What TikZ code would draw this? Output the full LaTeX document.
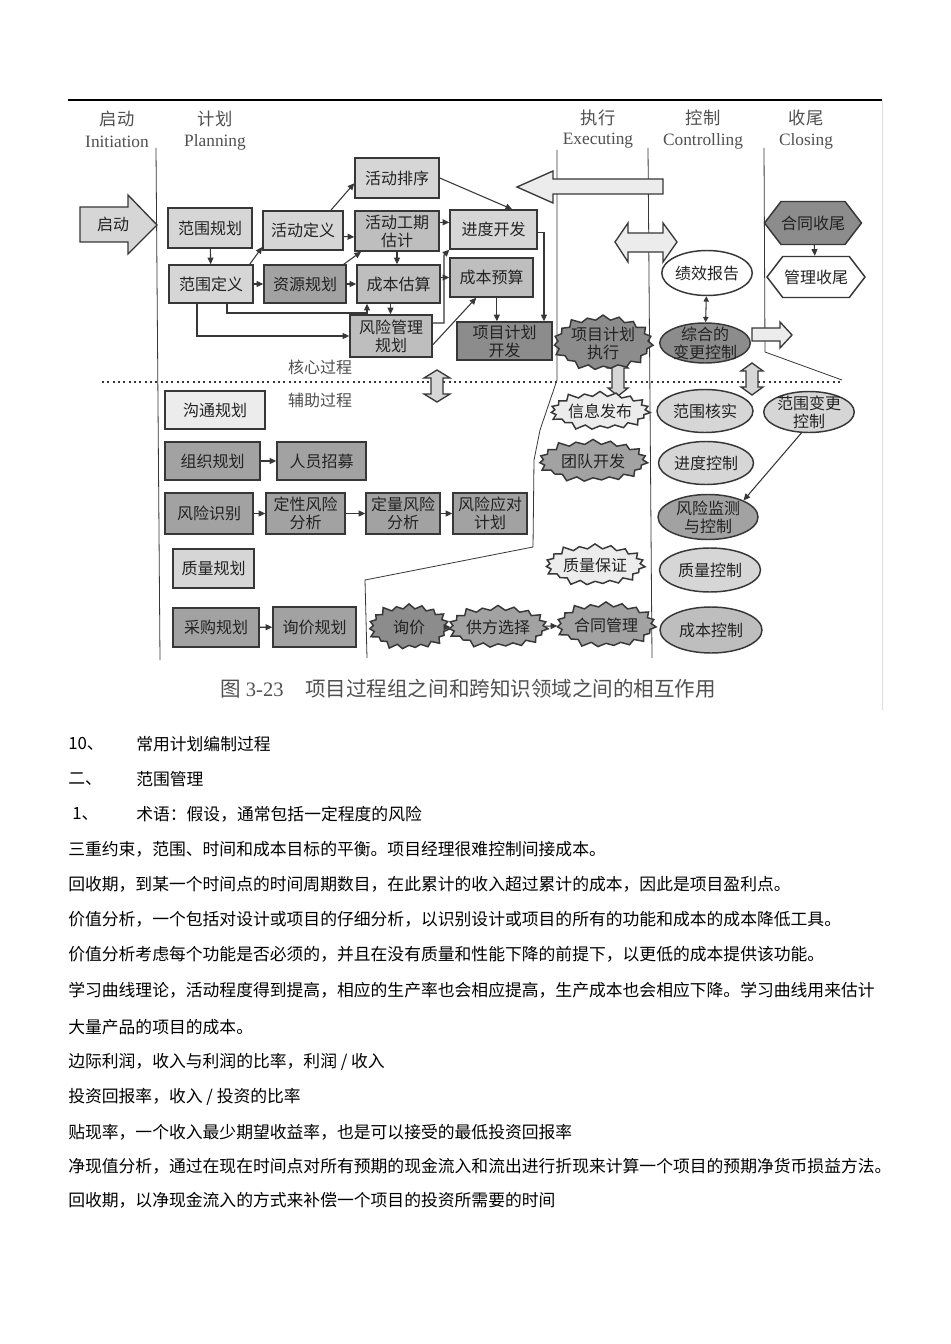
\documentclass[tikz,border=0pt]{standalone}
\usepackage{fontspec}
\setmainfont{Liberation Serif}
\newfontfamily\cjk{Noto Sans CJK SC}
\usepackage{xcolor}
\usetikzlibrary{positioning, arrows.meta, calc, shapes.geometric, shapes.symbols}
\definecolor{lineDark}{RGB}{55,55,55}
\definecolor{fillPale}{RGB}{236,236,236}
\definecolor{fillLight}{RGB}{214,214,214}
\definecolor{fillMid}{RGB}{190,190,190}
\definecolor{fillDeep}{RGB}{162,162,162}
\definecolor{fillDark}{RGB}{140,140,140}
\definecolor{textDark}{RGB}{35,35,35}
\definecolor{textMute}{RGB}{80,80,80}
\newcommand{\boxfont}{\cjk\fontsize{12}{13.5}\selectfont}
\newcommand{\bodyfont}{\cjk\fontsize{12.6}{14}\selectfont}
\newcommand{\headfont}{\fontsize{13}{15}\selectfont}

\begin{document}
\begin{tikzpicture}[
    x=0.75pt, y=-0.75pt,
    every node/.style={text=textDark},
    boxsize/.code 2 args={%
        \pgfmathsetlengthmacro\boxwd{#1*0.75}%
        \pgfmathsetlengthmacro\boxht{#2*0.75}%
        \tikzset{minimum width=\boxwd, minimum height=\boxht}},
    box/.style={draw=lineDark, line width=1.1pt, inner sep=0pt, align=center, font=\boxfont},
    oval/.style={box, shape=ellipse},
    burst/.style={box, shape=starburst, starburst points=19, starburst point height=5pt},
    hexa/.style={box, shape=signal, signal to=east and west, signal pointer angle=105},
    conn/.style={draw=lineDark, line width=0.8pt, -{Triangle[length=5pt,width=4.5pt]}},
    blockarrow/.style={draw=lineDark, line width=1pt, fill=fillPale},
    phaseline/.style={draw=lineDark, line width=0.6pt},
    headtext/.style={font=\headfont, text=textMute, inner sep=0pt},
    bodytext/.style={anchor=west, font=\bodyfont, inner sep=0pt, text=black},
]
% Canvas: 950 x 1344 px, y grows downwards
\useasboundingbox (0,0) rectangle (950,1344);
\fill[white] (0,0) rectangle (950,1344);

% --- Figure frame ---
\draw[black, line width=0.9pt] (68,100) -- (882,100);
\draw[gray!25, line width=0.6pt] (882,100) -- (882,710);

% --- Phase headers ---
\node[headtext] (hInitZh) at (117,119) {\cjk 启动};
\node[headtext] (hInitEn) at (117,142) {Initiation};
\node[headtext] (hPlanZh) at (215,119) {\cjk 计划};
\node[headtext] (hPlanEn) at (215,142) {Planning};
\node[headtext] (hExecZh) at (598,118) {\cjk 执行};
\node[headtext] (hExecEn) at (598,141) {Executing};
\node[headtext] (hCtrlZh) at (703,118) {\cjk 控制};
\node[headtext] (hCtrlEn) at (703,141) {Controlling};
\node[headtext] (hCloseZh) at (806,118) {\cjk 收尾};
\node[headtext] (hCloseEn) at (806,141) {Closing};

% --- Phase boundaries ---
\draw[phaseline] (156,148) -- (160,660);
\draw[phaseline] (557,150) -- (557,380) -- (540,430) -- (534,460) -- (533,547)
    -- (365,580) -- (367,658);
\draw[phaseline] (648,148) -- (652,658);
\draw[phaseline] (764,148) -- (765,352) -- (842,380);

% --- Core / supporting split ---
\draw[lineDark, line width=1.6pt, dash pattern=on 1.4pt off 2.6pt] (102,382) -- (842,382);
\node[headtext, font=\boxfont] (coreLbl) at (320,367) {核心过程};
\node[headtext, font=\boxfont] (suppLbl) at (320,400) {辅助过程};

% --- Block arrows ---
\draw[blockarrow, fill=fillLight] (80,207) -- (128,207) -- (128,195) -- (157,225)
    -- (128,254) -- (128,242) -- (80,242) -- cycle;
\node[font=\boxfont] (startLbl) at (113,224) {启动};
\draw[blockarrow] (663,179) -- (553,179) -- (553,171) -- (517,187) -- (553,203)
    -- (553,194) -- (663,194) -- cycle;
\draw[blockarrow] (615,242) -- (628,223) -- (628,233) -- (663,233) -- (663,223)
    -- (677,242) -- (663,262) -- (663,252) -- (628,252) -- (628,262) -- cycle;
\draw[blockarrow] (752,328) -- (780,328) -- (780,322) -- (792,335) -- (780,348)
    -- (780,341) -- (752,341) -- cycle;
\draw[blockarrow, fill=fillLight] (437,370) -- (450,378) -- (443,378) -- (443,394)
    -- (450,394) -- (437,402) -- (424,394) -- (431,394) -- (431,378) -- (424,378) -- cycle;
\draw[blockarrow, fill=fillLight] (618,360) -- (628,368) -- (624,368) -- (624,388)
    -- (628,388) -- (618,396) -- (608,388) -- (612,388) -- (612,368) -- (608,368) -- cycle;
\draw[blockarrow, fill=fillLight] (752,363) -- (763,371) -- (758,371) -- (758,387)
    -- (763,387) -- (752,395) -- (741,387) -- (746,387) -- (746,371) -- (741,371) -- cycle;

% --- Planning: core processes ---
\node[box, fill=fillLight, boxsize={84}{40}] (scopePlan) at (210,228) {范围规划};
\node[box, fill=fillLight, boxsize={84}{38}] (scopeDef)  at (211,284) {范围定义};
\node[box, fill=fillLight, boxsize={80}{39}] (actDef)    at (303,230.5) {活动定义};
\node[box, fill=fillDeep,  boxsize={82}{38}] (resPlan)   at (305,284) {资源规划};
\node[box, fill=fillLight, boxsize={84}{40}] (actSeq)    at (397,178) {活动排序};
\node[box, fill=fillMid,   boxsize={84}{40}] (actDur)    at (397,231) {活动工期\\估计};
\node[box, fill=fillMid,   boxsize={83}{38}] (costEst)   at (398.5,284) {成本估算};
\node[box, fill=fillMid,   boxsize={82}{42}] (riskPlan)  at (391,336) {风险管理\\规划};
\node[box, fill=fillLight, boxsize={87}{39}] (schedDev)  at (493.5,229.5) {进度开发};
\node[box, fill=fillMid,   boxsize={83}{39}] (costBud)   at (491.5,277.5) {成本预算};
\node[box, fill=fillDark,  boxsize={95}{38}] (planDev)   at (504.5,341) {项目计划\\开发};

\coordinate (costLoop)  at (367,313);
\coordinate (schedBend) at (444,255);

\draw[conn] (scopePlan) -- (scopeDef);
\draw[conn] (scopeDef.27) -- (actDef.202);
\draw[conn] (scopeDef) -- (resPlan);
\draw[conn] (actDef.36) -- (actSeq.187);
\draw[conn] ([yshift=-4.5pt]actDef.east) -- ([yshift=-4.5pt]actDur.west);
\draw[conn] (resPlan.27) -- (actDur.210);
\draw[conn] (resPlan) -- (costEst);
\draw[conn] ([xshift=12pt]scopeDef.south) |- (costLoop) -- (costLoop |- costEst.south);
\draw[conn] ([xshift=-10.5pt]scopeDef.south) |- (riskPlan.west);
\draw[conn] (actDur.south) -- (actDur.south |- costEst.north);
\draw[conn] ([xshift=-6pt]costEst.south) -- ([xshift=-6pt]costEst.south |- riskPlan.north);
\draw[conn] (costEst.east |- costBud.west) -- (costBud.west);
\draw[conn] ([yshift=6.5pt]actDur.east) -- ([yshift=6.5pt]actDur.east -| schedDev.west);
\draw[conn] (actSeq.east) -- ([xshift=14pt]schedDev.north);
\draw[conn] ([yshift=9.75pt]riskPlan.east) -| (schedBend) -- (schedDev.south west);
\draw[conn] (riskPlan.-12) -- (costBud.233);
\draw[conn] ([xshift=4pt]costBud.south) -- ([xshift=4pt]costBud.south |- planDev.north);
\draw[conn] ([yshift=-2.5pt]schedDev.east) -| ([xshift=29.6pt]planDev.north);

% --- Planning: supporting processes ---
\node[box, fill=fillPale,  boxsize={100}{38}] (commPlan)  at (215,410) {沟通规划};
\node[box, fill=fillDeep,  boxsize={95}{38}]  (orgPlan)   at (212.5,461) {组织规划};
\node[box, fill=fillDeep,  boxsize={89}{38}]  (staffAcq)  at (321.5,461) {人员招募};
\node[box, fill=fillDeep,  boxsize={88}{41}]  (riskId)    at (209,513.5) {风险识别};
\node[box, fill=fillDeep,  boxsize={79}{41}]  (qualRisk)  at (305.5,513.5) {定性风险\\分析};
\node[box, fill=fillDeep,  boxsize={74}{41}]  (quantRisk) at (403,513.5) {定量风险\\分析};
\node[box, fill=fillDeep,  boxsize={74}{41}]  (riskResp)  at (490,513.5) {风险应对\\计划};
\node[box, fill=fillLight, boxsize={81}{39}]  (qualPlan)  at (213.5,568.5) {质量规划};
\node[box, fill=fillDeep,  boxsize={86}{39}]  (procPlan)  at (216,627.5) {采购规划};
\node[box, fill=fillDeep,  boxsize={83}{40}]  (solPlan)   at (314.5,627) {询价规划};

\draw[conn] (orgPlan) -- (staffAcq);
\draw[conn] (riskId) -- (qualRisk);
\draw[conn] (qualRisk) -- (quantRisk);
\draw[conn] (quantRisk) -- (riskResp);
\draw[conn] (procPlan) -- (solPlan);

% --- Executing ---
\node[burst, fill=fillDark,  boxsize={90}{43}]  (planExec) at (603,343) {项目计划\\执行};
\node[burst, fill=fillPale,  boxsize={104}{43}] (infoDist) at (600,411) {信息发布};
\node[burst, fill=fillDeep,  boxsize={113}{47}] (teamDev)  at (593,461) {团队开发};
\node[burst, fill=fillPale,  boxsize={100}{46}] (qualAss)  at (595,565) {质量保证};
\node[burst, fill=fillDark,  boxsize={85}{50}]  (solicit)  at (409,627) {询价};
\node[burst, fill=fillDeep,  boxsize={80}{47}]  (srcSel)   at (498,627) {供方选择};
\node[burst, fill=fillDeep,  boxsize={97}{50}]  (conAdm)   at (606,625) {合同管理};

\draw[conn] (solicit) -- (srcSel);
\draw[conn] (srcSel) -- (conAdm);

% --- Controlling ---
\node[oval, fill=white,     boxsize={90}{45}]  (perfRep)  at (707,273) {绩效报告};
\node[oval, fill=fillDark,  boxsize={90}{40}, inner ysep=-2pt] (intChg) at (705,343) {综合的\\变更控制};
\node[oval, fill=fillLight, boxsize={96}{43}]  (scopeVer) at (705,411) {范围核实};
\node[oval, fill=fillLight, boxsize={95}{43}]  (schedCtl) at (706,463) {进度控制};
\node[oval, fill=fillDeep,  boxsize={100}{45}, inner ysep=-2pt] (riskCtl) at (708,517) {风险监测\\与控制};
\node[oval, fill=fillLight, boxsize={101}{44}] (qualCtl)  at (710,570) {质量控制};
\node[oval, fill=fillMid,   boxsize={102}{46}] (costCtl)  at (711,630) {成本控制};
\node[oval, fill=fillLight, boxsize={88}{41}, inner ysep=-2pt] (scopeChg) at (809,412) {范围变更\\控制};

\draw[draw=lineDark, line width=0.8pt, {Triangle[length=4pt,width=4pt]}-{Triangle[length=4pt,width=4pt]}]
    (perfRep) -- (intChg);
\draw[conn] (scopeChg.250) -- (riskCtl.25);

% --- Closing ---
\node[hexa, fill=fillDark, boxsize={87}{43}] (ctrClose) at (813,223) {合同收尾};
\node[hexa, fill=white,    boxsize={98}{41}] (admClose) at (816,277) {管理收尾};
\draw[conn] (ctrClose) -- (admClose);

% --- Caption ---
\node[anchor=west, inner sep=0pt, text=textMute, font=\fontsize{15.4}{17}\selectfont]
    (capNum) at (220,689) {{\cjk 图} 3-23};
\node[anchor=west, inner sep=0pt, text=textMute, font=\cjk\fontsize{15.4}{17}\selectfont]
    (capTxt) at (305,689) {项目过程组之间和跨知识领域之间的相互作用};

% --- Body text ---
\node[bodytext] (ln01a) at (68,744) {10、};
\node[bodytext] (ln01b) at (136,744) {常用计划编制过程};
\node[bodytext] (ln02a) at (68,779) {二、};
\node[bodytext] (ln02b) at (136,779) {范围管理};
\node[bodytext] (ln03a) at (72,814) {1、};
\node[bodytext] (ln03b) at (136,814) {术语：假设，通常包括一定程度的风险};
\node[bodytext] (ln04) at (68,849) {三重约束，范围、时间和成本目标的平衡。项目经理很难控制间接成本。};
\node[bodytext] (ln05) at (68,884) {回收期，到某一个时间点的时间周期数目，在此累计的收入超过累计的成本，因此是项目盈利点。};
\node[bodytext] (ln06) at (68,919) {价值分析，一个包括对设计或项目的仔细分析，以识别设计或项目的所有的功能和成本的成本降低工具。};
\node[bodytext] (ln07) at (68,954) {价值分析考虑每个功能是否必须的，并且在没有质量和性能下降的前提下，以更低的成本提供该功能。};
\node[bodytext] (ln08) at (68,990) {学习曲线理论，活动程度得到提高，相应的生产率也会相应提高，生产成本也会相应下降。学习曲线用来估计};
\node[bodytext] (ln09) at (68,1027) {大量产品的项目的成本。};
\node[bodytext] (ln10) at (68,1062) {边际利润，收入与利润的比率，利润 / 收入};
\node[bodytext] (ln11) at (68,1097) {投资回报率，收入 / 投资的比率};
\node[bodytext] (ln12) at (68,1132) {贴现率，一个收入最少期望收益率，也是可以接受的最低投资回报率};
\node[bodytext] (ln13) at (68,1166) {净现值分析，通过在现在时间点对所有预期的现金流入和流出进行折现来计算一个项目的预期净货币损益方法。};
\node[bodytext] (ln14) at (68,1200) {回收期，以净现金流入的方式来补偿一个项目的投资所需要的时间};

\end{tikzpicture}
\end{document}
